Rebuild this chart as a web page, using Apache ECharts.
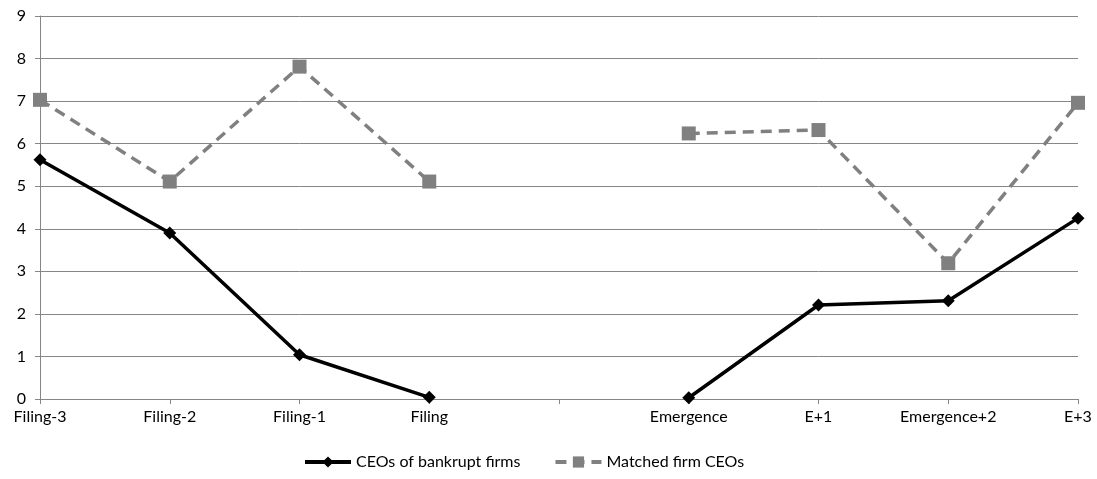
<!DOCTYPE html>
<html>
<head>
<meta charset="utf-8">
<script src="https://cdn.jsdelivr.net/npm/echarts@6/dist/echarts.min.js"></script>
<style>
  html, body { margin: 0; padding: 0; background: #fff; }
  #chart { width: 1097px; height: 479px; }
</style>
</head>
<body>
<div id="chart"></div>
<script>
// Event-time categories around filing and emergence (blank slot separates the two windows)
const categories = ['Filing-3', 'Filing-2', 'Filing-1', 'Filing', '', 'Emergence', 'E+1', 'Emergence+2', 'E+3'];
const bankruptCEOs = [5.62, 3.90, 1.04, 0.04, null, 0.03, 2.21, 2.31, 4.25];
const matchedCEOs = [7.03, 5.11, 7.81, 5.11, null, 6.24, 6.32, 3.19, 6.96];
const yTicks = [0, 1, 2, 3, 4, 5, 6, 7, 8, 9];

const font = 'Lato, "Open Sans", sans-serif';
const chart = echarts.init(document.getElementById('chart'));
chart.setOption({
  animation: false,
  grid: { left: 40, right: 19, top: 16, bottom: 80, containLabel: false },
  legend: {
    bottom: 4,
    left: 298,
    itemWidth: 46,
    itemHeight: 14,
    itemGap: 33,
    lineStyle: { width: 4 },
    textStyle: { fontFamily: font, fontSize: 16, color: '#000' },
    data: ['CEOs of bankrupt firms', 'Matched firm CEOs']
  },
  xAxis: {
    type: 'category',
    data: categories,
    boundaryGap: false,
    axisLine: { lineStyle: { color: '#868686', width: 1 } },
    axisTick: { show: true, length: 5, alignWithLabel: true, lineStyle: { color: '#868686' } },
    axisLabel: { fontFamily: font, fontSize: 16, color: '#000', margin: 10, interval: 0 },
    splitLine: { show: false }
  },
  yAxis: {
    type: 'value',
    min: yTicks[0],
    max: yTicks[yTicks.length - 1],
    interval: 1,
    axisLine: { show: true, lineStyle: { color: '#868686', width: 1 } },
    axisTick: { show: true, length: 5, lineStyle: { color: '#868686' } },
    axisLabel: { fontFamily: font, fontSize: 16, color: '#000', margin: 14 },
    splitLine: { lineStyle: { color: '#868686', width: 1 } }
  },
  series: [
    {
      name: 'CEOs of bankrupt firms',
      type: 'line',
      data: bankruptCEOs,
      connectNulls: false,
      symbol: 'diamond',
      symbolSize: 13,
      itemStyle: { color: '#000' },
      lineStyle: { color: '#000', width: 3.5 },
      z: 3
    },
    {
      name: 'Matched firm CEOs',
      type: 'line',
      data: matchedCEOs,
      connectNulls: false,
      symbol: 'rect',
      symbolSize: 14,
      itemStyle: { color: '#808080' },
      lineStyle: { color: '#808080', width: 3.5, type: [11, 7] },
      z: 2
    }
  ]
});
</script>
</body>
</html>
